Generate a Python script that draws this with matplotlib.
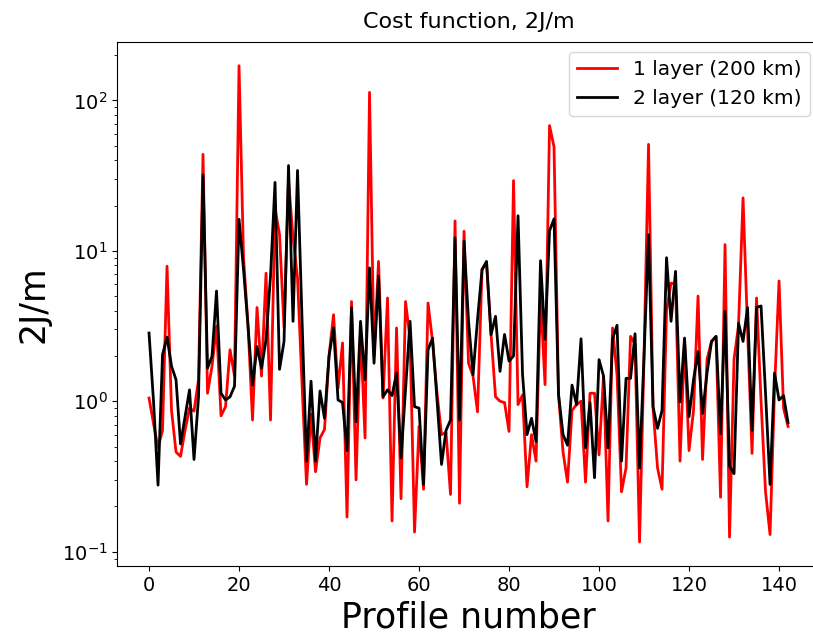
import numpy as np
import matplotlib
matplotlib.use('Agg')
import matplotlib.pyplot as plt

# cost function per profile, 1-layer model (200 km)
cost_1layer = [
    1.05, 0.71, 0.49, 0.64, 7.9, 0.87, 0.46, 0.43, 0.64, 0.90,
    0.86, 1.39, 43.8, 1.13, 1.71, 3.15, 0.80, 0.92, 2.2, 1.47,
    170, 9.0, 3.2, 0.75, 4.2, 1.47, 7.1, 0.75, 19, 12.9,
    3.1, 29.3, 12.3, 6.6, 1.3, 0.28, 0.82, 0.34, 0.57, 0.65,
    2.0, 3.76, 1.22, 2.44, 0.17, 4.6, 0.30, 3.0, 0.57, 113,
    2.0, 8.5, 1.05, 4.86, 0.16, 3.07, 0.225, 4.6, 2.6, 0.135,
    0.68, 0.26, 4.5, 2.5, 1.13, 0.6, 0.62, 0.24, 15.8, 0.21,
    13.5, 1.79, 1.47, 0.85, 7.5, 8.3, 2.8, 1.07, 1.0, 0.98,
    0.63, 29.3, 0.95, 1.1, 0.27, 0.6, 0.40, 5.0, 1.29, 68,
    49, 1.1, 0.46, 0.29, 0.87, 0.95, 1.0, 0.29, 1.13, 1.13,
    0.44, 1.47, 0.16, 3.07, 1.5, 0.25, 0.36, 2.7, 2.4, 0.116,
    2.0, 51, 0.9, 0.36, 0.26, 4.0, 6.1, 6.0, 0.40, 2.5,
    0.47, 0.87, 5.0, 0.41, 1.9, 2.5, 2.7, 0.23, 11.0, 0.125,
    1.9, 3.2, 22.5, 3.0, 0.45, 4.86, 1.0, 0.25, 0.13, 1.2,
    6.3, 0.9, 0.68,
]

# cost function per profile, 2-layer model (120 km)
cost_2layer = [
    2.84, 1.0, 0.277, 2.04, 2.67, 1.71, 1.39, 0.52, 0.79, 1.19,
    0.41, 1.07, 32, 1.66, 1.99, 5.4, 1.13, 1.02, 1.07, 1.26,
    16.2, 7.5, 3.15, 1.28, 2.31, 1.66, 2.56, 6.8, 28.5, 1.63,
    2.5, 36.9, 3.4, 34.2, 3.5, 0.40, 1.36, 0.40, 1.17, 0.77,
    2.0, 3.07, 1.02, 0.98, 0.47, 4.17, 0.73, 3.4, 1.39, 7.7,
    1.79, 6.8, 1.07, 1.19, 1.09, 1.54, 0.42, 1.19, 3.4, 0.92,
    0.90, 0.28, 2.2, 2.63, 1.02, 0.38, 0.64, 0.75, 12.2, 0.75,
    11.6, 3.4, 1.5, 3.5, 7.5, 8.5, 2.77, 3.67, 1.58, 2.78,
    1.85, 2.0, 17.1, 1.51, 0.6, 0.77, 0.54, 8.6, 2.58, 13.6,
    16.3, 1.11, 0.6, 0.51, 1.28, 0.95, 2.6, 0.49, 0.98, 0.31,
    1.89, 1.47, 0.49, 2.6, 3.2, 0.4, 1.42, 1.42, 2.81, 0.36,
    2.0, 12.8, 0.92, 0.66, 0.87, 9.0, 3.4, 7.3, 0.99, 2.63,
    0.79, 1.39, 2.14, 0.83, 1.54, 2.5, 2.7, 0.61, 3.96, 0.37,
    0.33, 3.3, 2.5, 4.2, 0.64, 4.2, 4.3, 1.13, 0.28, 1.54,
    1.02, 1.09, 0.72,
]

labels = ['1 layer (200 km)', '2 layer (120 km)']

profiles = np.arange(len(cost_1layer))

fig = plt.figure(figsize=(8.13, 6.35), dpi=100)
# axes run slightly past the right edge of the canvas
fig.subplots_adjust(left=0.144, right=1.0086, top=0.934, bottom=0.109)
ax = fig.add_subplot(111)

ax.plot(profiles, cost_1layer, color='r', lw=2, label=labels[0])
ax.plot(profiles, cost_2layer, color='k', lw=2, label=labels[1])
ax.set_yscale('log')

ax.set_title('Cost function, 2J/m', fontsize=16, pad=10)
ax.set_xlabel('Profile number', fontsize=25)
ax.set_ylabel('2J/m', fontsize=25, labelpad=8)
ax.tick_params(labelsize=14)
ax.legend(loc='upper right', fontsize=14.5)

fig.savefig('out.png', dpi=100)
